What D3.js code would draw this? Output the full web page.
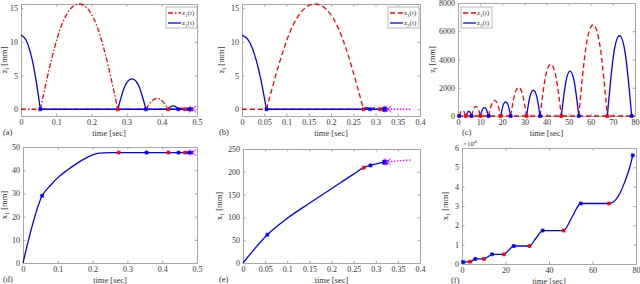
<!DOCTYPE html>
<html>
<head>
<meta charset="utf-8">
<script src="https://cdn.jsdelivr.net/npm/d3@7"></script>
<style>
  html, body { margin: 0; padding: 0; background: #fff; }
  svg { display: block; }
  text { font-family: "Liberation Serif", "Times New Roman", serif; fill: #333; }
</style>
</head>
<body>
<svg id="chart" width="640" height="284"></svg>
<script>
// ---------- data ----------
// (a) heights of the two feet [mm] vs time [sec]
const aZ2Arcs = [
  [[0, 11], [0.0138, 10.3], [0.0275, 8.25], [0.041, 4.85], [0.055, 0]],
  [[0.275, 0], [0.295, 3.4], [0.315, 4.5], [0.335, 3.4], [0.355, 0]],
  [[0.418, 0], [0.425, 0.38], [0.4325, 0.5], [0.44, 0.38], [0.447, 0]],
  [[0.466, 0], [0.4715, 0.07], [0.477, 0]]
];
const aZ1Arcs = [
  [[0.055, 0], [0.11, 11.7], [0.165, 15.6], [0.22, 11.7], [0.275, 0]],
  [[0.355, 0], [0.371, 1.2], [0.3865, 1.6], [0.402, 1.2], [0.418, 0]],
  [[0.447, 0], [0.4565, 0.18], [0.466, 0]]
];
const aZ1Ground = [[0, 0], [0.488, 0]];
const aZ2Ground = [[0.055, 0], [0.488, 0]];
const aBlueMarks = [[0.055, 0], [0.355, 0], [0.447, 0], [0.477, 0], [0.484, 0]];
const aRedMarks = [[0.275, 0], [0.418, 0], [0.466, 0], [0.481, 0]];
const aEnd = [[0.488, 0]];

// (b)
const bZ2Arcs = [
  [[0, 11], [0.0138, 10.3], [0.0275, 8.25], [0.041, 4.85], [0.055, 0]],
  [[0.273, 0], [0.2805, 0.25], [0.288, 0]]
];
const bZ1Arcs = [
  [[0.055, 0], [0.1095, 11.7], [0.164, 15.6], [0.2185, 11.7], [0.273, 0]],
  [[0.288, 0], [0.299, 0.22], [0.31, 0]]
];
const bZ1Ground = [[0, 0], [0.321, 0]];
const bZ2Ground = [[0.055, 0], [0.321, 0]];
const bTail = [[0.321, 0], [0.381, 0]];
const bBlueMarks = [[0.055, 0], [0.288, 0]];
const bRedMarks = [[0.273, 0], [0.31, 0]];
const bBigMark = [[0.321, 0]];
const bEnd = [[0.328, 0]];

// (c)
const cZ1Arcs = [
  [[0.5, 0], [1.25, 285], [2.0, 380], [2.75, 285], [3.5, 0]],
  [[6.1, 0], [7.1, 510], [8.1, 680], [9.1, 510], [10.1, 0]],
  [[13.8, 0], [15.2, 825], [16.55, 1100], [17.9, 825], [19.3, 0]],
  [[23.8, 0], [25.6, 1515], [27.4, 2020], [29.2, 1515], [31, 0]],
  [[37.1, 0], [39.5, 2745], [41.9, 3660], [44.3, 2745], [46.7, 0]],
  [[54.6, 0], [57.8, 4840], [61.05, 6450], [64.3, 4840], [67.5, 0]]
];
const cZ2Arcs = [
  [[3.7, 0], [4.3, 250], [4.9, 330], [5.5, 250], [6.1, 0]],
  [[10.1, 0], [11.0, 440], [11.95, 590], [12.9, 440], [13.8, 0]],
  [[19.3, 0], [20.4, 750], [21.55, 1000], [22.7, 750], [23.8, 0]],
  [[31, 0], [32.5, 1370], [34.05, 1830], [35.6, 1370], [37.1, 0]],
  [[46.7, 0], [48.7, 2385], [50.65, 3180], [52.6, 2385], [54.6, 0]],
  [[67.5, 0], [70.25, 4260], [73, 5680], [75.75, 4260], [78.5, 0]]
];
const cZ1Ground = [[0, 0], [80, 0]];
const cBlueMarks = [[0.5, 0], [6.1, 0], [13.8, 0], [23.8, 0], [37.1, 0], [54.6, 0], [78.5, 0]];
const cRedMarks = [[3.5, 0], [10.1, 0], [19.3, 0], [31, 0], [46.7, 0], [67.5, 0]];

// (d) body position x1 [mm]
const dX1 = [[0, 0], [0.055, 29], [0.08, 33.6], [0.1, 36.8], [0.125, 39.8], [0.15, 42.4],
  [0.175, 44.8], [0.2, 46.6], [0.22, 47.4], [0.25, 47.6], [0.488, 47.6]];
const dBlueMarks = [[0.055, 29], [0.355, 47.6], [0.447, 47.6], [0.477, 47.6], [0.484, 47.6]];
const dRedMarks = [[0.275, 47.6], [0.418, 47.6], [0.466, 47.6]];
const dEnd = [[0.488, 47.6]];

// (e)
const eX1 = [[0, 0], [0.055, 62], [0.1, 98], [0.15, 131], [0.2, 163], [0.25, 195],
  [0.273, 209], [0.288, 214], [0.321, 221]];
const eTail = [[0.321, 221], [0.35, 224], [0.381, 226]];
const eBlueMarks = [[0.055, 62], [0.288, 214]];
const eRedMarks = [[0.273, 209]];
const eBigMark = [[0.321, 221]];
const eEnd = [[0.326, 222]];

// (f) x1 in units of 10^4 mm
const fX1 = [[0, 0.1], [3.7, 0.12], [4.9, 0.19], [6.1, 0.26], [10.1, 0.26], [12, 0.38], [13.8, 0.5],
  [19.3, 0.5], [21.5, 0.72], [23.8, 0.93], [31, 0.93], [34, 1.33], [37.1, 1.73], [46.7, 1.73],
  [50.6, 2.43], [54.6, 3.13], [67.5, 3.13], [70, 3.25], [73, 3.75], [75, 4.3], [77, 4.95], [78.5, 5.62]];
const fBlueMarks = [[0.5, 0.1], [6.1, 0.26], [13.8, 0.5], [23.8, 0.93], [37.1, 1.73], [54.6, 3.13], [78.5, 5.62]];
const fRedMarks = [[3.7, 0.12], [10.1, 0.26], [19.3, 0.5], [31, 0.93], [46.7, 1.73], [67.5, 3.13]];

// tick values
const ticksT05 = [0, 0.1, 0.2, 0.3, 0.4, 0.5];
const ticksT04 = [0, 0.05, 0.1, 0.15, 0.2, 0.25, 0.3, 0.35, 0.4];
const ticksT80 = [0, 10, 20, 30, 40, 50, 60, 70, 80];
const ticksT80b = [0, 20, 40, 60, 80];
const ticksZ = [0, 5, 10, 15];
const ticksZc = [0, 2000, 4000, 6000, 8000];
const ticksXd = [0, 10, 20, 30, 40, 50];
const ticksXe = [0, 50, 100, 150, 200, 250];
const ticksXf = [0, 1, 2, 3, 4, 5, 6];

// ---------- drawing ----------
const BLUE = '#0000ff', RED = '#ff0000', MAG = '#ff00ff', AXIS = '#a6a6a6';
const svg = d3.select('#chart');

const panels = [
  { tag: '(a)', box: [21, 4, 197, 116], xd: [0, 0.5], xt: ticksT05, yd: [-1, 15.6], yt: ticksZ, ylab: ['z', 'i'], tagX: 3, ylOff: 14 },
  { tag: '(b)', box: [242, 4, 420, 116], xd: [0, 0.4], xt: ticksT04, yd: [-1, 15.6], yt: ticksZ, ylab: ['z', 'i'], tagX: 219, ylOff: 18 },
  { tag: '(c)', box: [458, 3, 635, 116], xd: [0, 80], xt: ticksT80, yd: [0, 8000], yt: ticksZc, ylab: ['z', 'i'], tagX: 462, ylOff: 23 },
  { tag: '(d)', box: [23, 147, 197, 263], xd: [0, 0.5], xt: ticksT05, yd: [0, 50], yt: ticksXd, ylab: ['x', '1'], tagX: 3, ylOff: 16 },
  { tag: '(e)', box: [243, 149, 420, 263], xd: [0, 0.4], xt: ticksT04, yd: [0, 250], yt: ticksXe, ylab: ['x', '1'], tagX: 219, ylOff: 21 },
  { tag: '(f)', box: [462, 148, 636, 264], xd: [0, 80], xt: ticksT80b, yd: [0, 6], yt: ticksXf, ylab: ['x', '1'], tagX: 451, ylOff: 14 }
];

function setupPanel(p) {
  const [x0, y0, x1, y1] = p.box;
  const x = d3.scaleLinear().domain(p.xd).range([x0, x1]);
  const y = d3.scaleLinear().domain(p.yd).range([y1, y0]);
  const g = svg.append('g');
  const fmt = d => String(d);

  g.append('rect').attr('x', x0).attr('y', y0).attr('width', x1 - x0).attr('height', y1 - y0)
    .attr('fill', '#fff');

  const axes = [
    [d3.axisBottom(x).tickValues(p.xt).tickFormat(fmt), `translate(0,${y1})`],
    [d3.axisTop(x).tickValues(p.xt).tickFormat(''), `translate(0,${y0})`],
    [d3.axisLeft(y).tickValues(p.yt).tickFormat(fmt), `translate(${x0},0)`],
    [d3.axisRight(y).tickValues(p.yt).tickFormat(''), `translate(${x1},0)`]
  ];
  axes.forEach(([ax, tr]) => {
    const a = g.append('g').attr('transform', tr)
      .call(ax.tickSize(-2.5).tickSizeOuter(0).tickPadding(3));
    a.select('.domain').attr('stroke', AXIS);
    a.selectAll('.tick line').attr('stroke', AXIS);
    a.selectAll('text').attr('font-size', 8).attr('fill', '#333')
      .style('font-family', '"Liberation Serif", serif');
  });

  g.append('text').attr('x', (x0 + x1) / 2).attr('y', y1 + 19.5).attr('text-anchor', 'middle')
    .attr('font-size', 8.5).text('time [sec]');

  const yl = g.append('text')
    .attr('transform', `translate(${x0 - p.ylOff},${(y0 + y1) / 2}) rotate(-90)`)
    .attr('text-anchor', 'middle').attr('font-size', 8.5);
  yl.append('tspan').text(p.ylab[0]);
  yl.append('tspan').attr('font-size', 6).attr('dy', 2).text(p.ylab[1]);
  yl.append('tspan').attr('dy', -2).text(' [mm]');

  g.append('text').attr('x', p.tagX).attr('y', y1 + 19).attr('font-size', 8.5).text(p.tag);

  const plot = g.append('g');
  return { x, y, g, plot };
}

function drawLine(P, data, color, dash, curve, width) {
  const line = d3.line().x(d => P.x(d[0])).y(d => P.y(d[1])).curve(curve || d3.curveLinear);
  P.plot.append('path').datum(data).attr('d', line).attr('fill', 'none')
    .attr('stroke', color).attr('stroke-width', width || 1.3)
    .attr('stroke-dasharray', dash || null);
}

function drawMarks(P, data, color, size) {
  P.plot.selectAll(null).data(data).enter().append('path')
    .attr('transform', d => `translate(${P.x(d[0])},${P.y(d[1])})`)
    .attr('d', d3.symbol(d3.symbolSquare, size || 9))
    .attr('fill', color).attr('stroke', color).attr('stroke-width', 0.6);
}

function drawEnd(P, data) {
  P.plot.selectAll(null).data(data).enter().append('path')
    .attr('transform', d => `translate(${P.x(d[0])},${P.y(d[1])})`)
    .attr('d', d3.symbol(d3.symbolX, 30))
    .attr('fill', 'none').attr('stroke', MAG).attr('stroke-width', 1);
}

function legend(x0, y0, dash) {
  const g = svg.append('g');
  g.append('rect').attr('x', x0).attr('y', y0).attr('width', 31).attr('height', 21)
    .attr('fill', '#fff').attr('stroke', AXIS).attr('stroke-width', 0.8);
  [[RED, dash, '1'], [BLUE, null, '2']].forEach(([c, ds, sub], i) => {
    const yy = y0 + 6 + i * 10;
    g.append('line').attr('x1', x0 + 2).attr('x2', x0 + 15).attr('y1', yy).attr('y2', yy)
      .attr('stroke', c).attr('stroke-width', 1.3).attr('stroke-dasharray', ds);
    const t = g.append('text').attr('x', x0 + 16).attr('y', yy + 2).attr('font-size', 7);
    t.append('tspan').text('z');
    t.append('tspan').attr('font-size', 5).attr('dy', 1.5).text(sub);
    t.append('tspan').attr('dy', -1.5).text('(t)');
  });
}

const DASHDOT = '5,2,1.5,2';
const DASH = '5,3';

// (a)
const A = setupPanel(panels[0]);
drawLine(A, aZ1Ground, RED, DASHDOT);
aZ1Arcs.forEach(arc => drawLine(A, arc, RED, DASHDOT, d3.curveNatural));
drawLine(A, aZ2Ground, BLUE);
aZ2Arcs.forEach(arc => drawLine(A, arc, BLUE, null, d3.curveNatural));
drawMarks(A, aRedMarks, RED);
drawMarks(A, aBlueMarks, BLUE);
drawEnd(A, aEnd);
legend(166, 7, DASHDOT);

// (b)
const B = setupPanel(panels[1]);
drawLine(B, bZ1Ground, RED, DASH);
bZ1Arcs.forEach(arc => drawLine(B, arc, RED, DASH, d3.curveNatural));
drawLine(B, bZ2Ground, BLUE);
bZ2Arcs.forEach(arc => drawLine(B, arc, BLUE, null, d3.curveNatural));
drawLine(B, bTail, MAG, '1.5,1.5');
drawMarks(B, bRedMarks, RED);
drawMarks(B, bBlueMarks, BLUE);
drawMarks(B, bBigMark, BLUE, 20);
drawEnd(B, bEnd);
legend(388, 7, DASH);

// (c)
const C = setupPanel(panels[2]);
drawLine(C, cZ1Ground, RED, DASH);
cZ1Arcs.forEach(arc => drawLine(C, arc, RED, DASH, d3.curveNatural));
cZ2Arcs.forEach(arc => drawLine(C, arc, BLUE, null, d3.curveNatural));
drawMarks(C, cRedMarks, RED);
drawMarks(C, cBlueMarks, BLUE);
legend(461, 7, DASH);

// (d)
const D = setupPanel(panels[3]);
drawLine(D, dX1, BLUE, null, d3.curveMonotoneX);
drawMarks(D, dRedMarks, RED);
drawMarks(D, dBlueMarks, BLUE);
drawEnd(D, dEnd);

// (e)
const E = setupPanel(panels[4]);
drawLine(E, eX1, BLUE, null, d3.curveMonotoneX);
drawLine(E, eTail, MAG, '1.5,1.5', d3.curveMonotoneX);
drawMarks(E, eRedMarks, RED);
drawMarks(E, eBlueMarks, BLUE);
drawMarks(E, eBigMark, BLUE, 20);
drawEnd(E, eEnd);

// (f)
const F = setupPanel(panels[5]);
drawLine(F, fX1, BLUE, null, d3.curveMonotoneX);
drawMarks(F, fRedMarks, RED);
drawMarks(F, fBlueMarks, BLUE);
const exp = svg.append('text').attr('x', 463).attr('y', 146).attr('font-size', 7);
exp.append('tspan').text('\u00d710');
exp.append('tspan').attr('font-size', 5).attr('dy', -3).text('4');
</script>
</body>
</html>
